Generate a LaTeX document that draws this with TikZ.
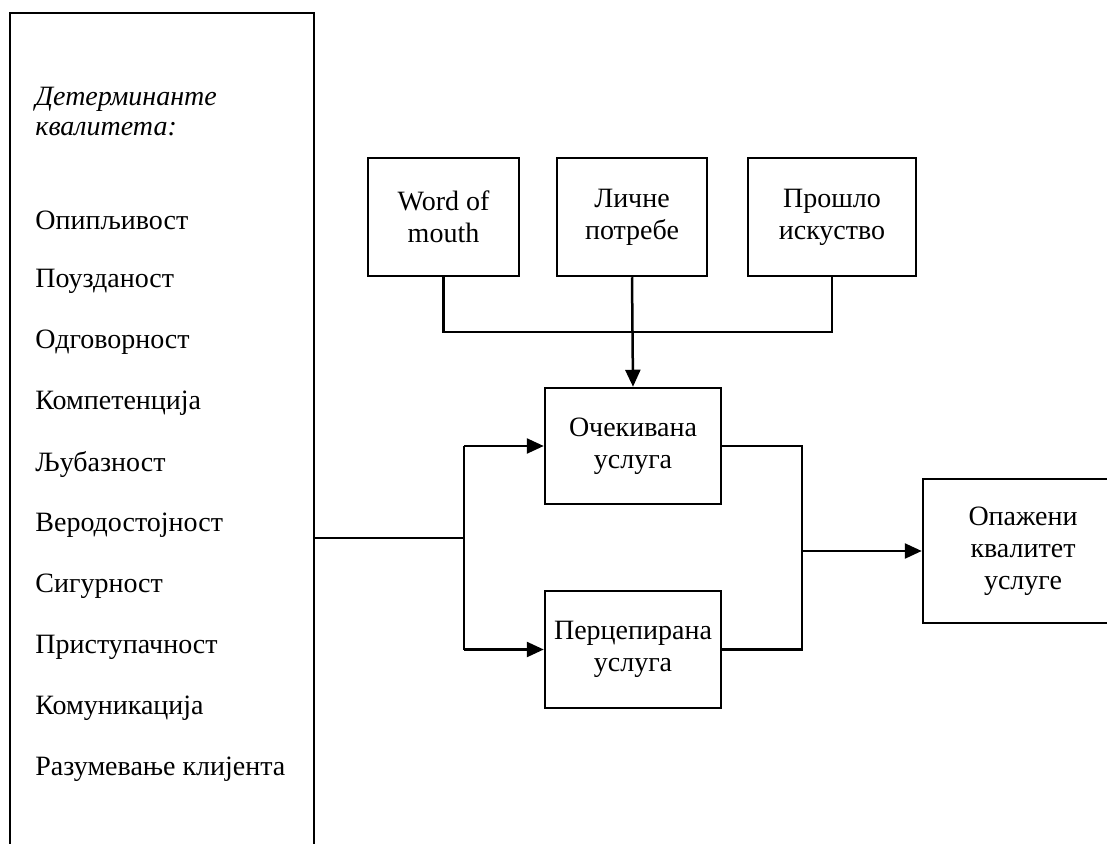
\documentclass[tikz,border=0pt]{standalone}
\usepackage{fontspec}
\setmainfont{Liberation Serif}
\usetikzlibrary{arrows.meta}
\begin{document}
\begin{tikzpicture}[x=0.5pt,y=-0.5pt,
  txt/.style={font=\fontsize{14}{16}\selectfont},
  box/.style={draw, line width=1.25pt, align=center, inner sep=0pt, txt},
  item/.style={anchor=west, inner sep=0pt, txt},
  link/.style={line width=1.25pt},
  arr/.style={link, -{Triangle[length=8.5pt,width=7.5pt]}}]
\useasboundingbox (0,0) rectangle (1107,844);
\fill[white] (0,0) rectangle (1107,844);
\clip (0,0) rectangle (1107,844);

% determinants panel (runs off the lower edge)
\node[box, minimum width=152pt, minimum height=443.5pt] (det) at (162,456.5) {};
\node[item, align=left, font=\fontsize{14}{15}\selectfont\itshape] (head) at (35,112)
  {Детерминанте\\квалитета:};
\node[item] (d1)  at (35,220) {Опипљивост};
\node[item] (d2)  at (35,281) {Поузданост};
\node[item] (d3)  at (35,342) {Одговорност};
\node[item] (d4)  at (35,403) {Компетенција};
\node[item] (d5)  at (35,464) {Љубазност};
\node[item] (d6)  at (35,525) {Веродостојност};
\node[item] (d7)  at (35,586) {Сигурност};
\node[item] (d8)  at (35,647) {Приступачност};
\node[item] (d9)  at (35,708) {Комуникација};
\node[item] (d10) at (35,769) {Разумевање клијента};

% expectation sources
\node[box, minimum width=75.5pt, minimum height=59pt] (wom) at (443.5,217) {Word of\\mouth};
\node[box, minimum width=75pt,   minimum height=59pt] (lic) at (632,217) {Личне\\потребе};
\node[box, minimum width=84pt,   minimum height=59pt] (pro) at (832,217) {Прошло\\искуство};

% expected and perceived service
\node[box, minimum width=88pt, minimum height=58pt]   (exp) at (633,446) {Очекивана\\услуга};
\node[box, minimum width=88pt, minimum height=58.5pt] (per) at (633,649.5) {Перцепирана\\услуга};

% result (runs off the right edge)
\node[box, minimum width=100pt, minimum height=72pt] (opa) at (1023,551) {Опажени\\квалитет\\услуге};

% junction points
\coordinate (bus) at (632,332);
\coordinate (jl)  at (464,538);
\coordinate (jr)  at (802,551);

% sources to expected service
\draw[link] (wom.south) -- (wom.south |- bus) -- (pro.south |- bus) -- (pro.south);
\draw[arr] (lic.south) -- (exp.north);

% determinants to both services
\draw[link] (det.east |- jl) -- (jl);
\draw[link] (jl |- exp.west) -- (jl |- per.west);
\draw[arr] (jl |- exp.west) -- (exp.west);
\draw[arr] (jl |- per.west) -- (per.west);

% gap between expected and perceived service
\draw[link] (exp.east) -- (jr |- exp.east) -- (jr |- per.east) -- (per.east);
\draw[arr] (jr) -- (opa.west);
\end{tikzpicture}
\end{document}
